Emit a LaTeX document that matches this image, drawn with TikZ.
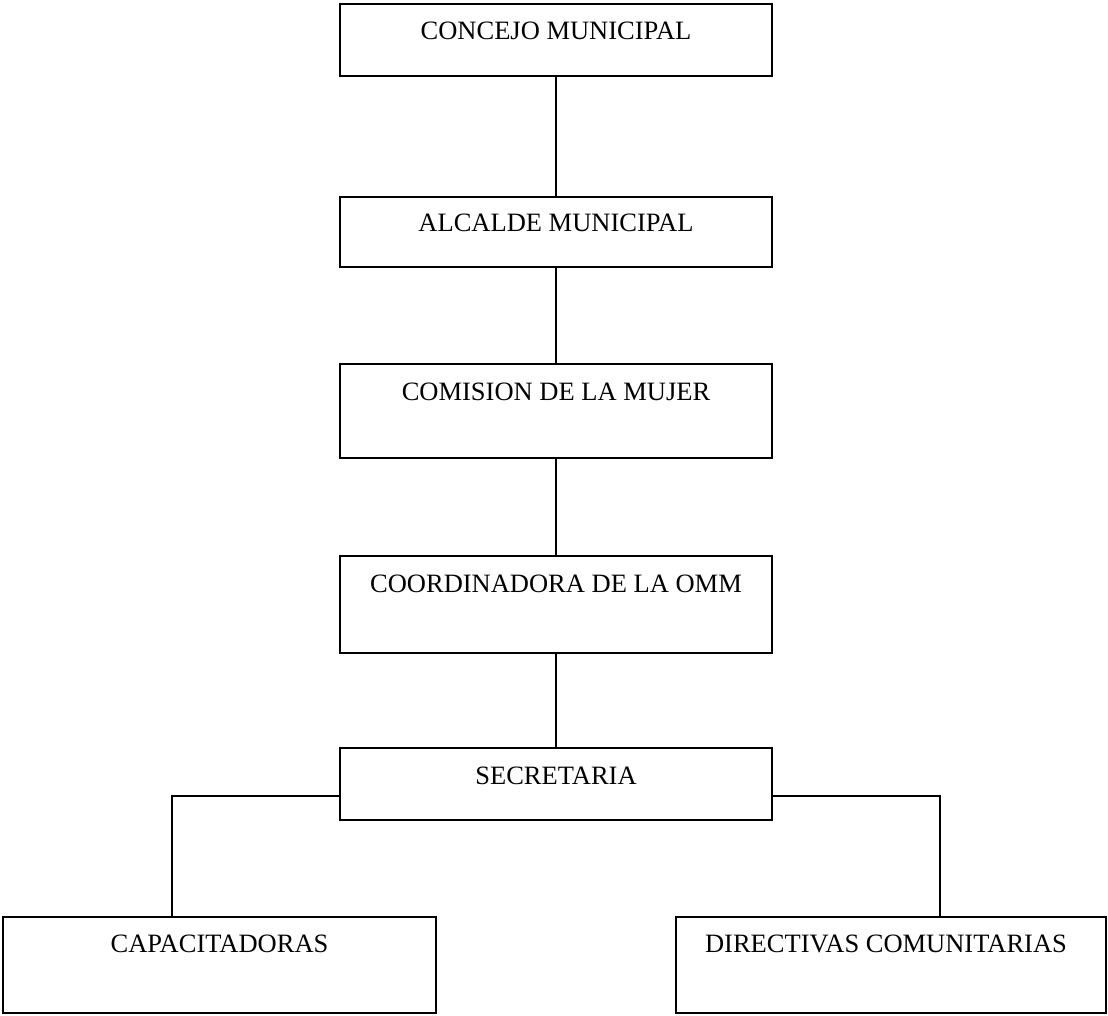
\documentclass[tikz,border=0pt]{standalone}
\usepackage{fontspec}
\setmainfont{Liberation Serif}
\usetikzlibrary{calc}
\begin{document}
\begin{tikzpicture}[x=1pt,y=-1pt,
  box/.style={draw=black,line width=1.8pt,rectangle,inner sep=0pt,outer sep=0pt},
  lbl/.style={inner sep=0pt,anchor=base,font=\fontsize{26.5}{30}\selectfont},
  conn/.style={draw=black,line width=1.8pt}]
\useasboundingbox (0,0) rectangle (1108,1016);
\node[box,minimum width=432,minimum height=72] (b1) at (556,40) {};
\node[box,minimum width=432,minimum height=70] (b2) at (556,232) {};
\node[box,minimum width=432,minimum height=94] (b3) at (556,411) {};
\node[box,minimum width=432,minimum height=97] (b4) at (556,604.5) {};
\node[box,minimum width=432,minimum height=72] (b5) at (556,784) {};
\node[box,minimum width=433,minimum height=96] (b6) at (219.5,965) {};
\node[box,minimum width=430,minimum height=96] (b7) at (891,965) {};
\node[lbl] (t1) at ($(b1.north)+(0,36)$) {CONCEJO MUNICIPAL};
\node[lbl] (t2) at ($(b2.north)+(0,35)$) {ALCALDE MUNICIPAL};
\node[lbl] (t3) at ($(b3.north)+(0,36)$) {COMISION DE LA MUJER};
\node[lbl] (t4) at ($(b4.north)+(0,36)$) {COORDINADORA DE LA OMM};
\node[lbl] (t5) at ($(b5.north)+(0,36)$) {SECRETARIA};
\node[lbl] (t6) at ($(b6.north)+(0,35)$) {CAPACITADORAS};
\node[lbl] (t7) at ($(b7.north)+(-5,35)$) {DIRECTIVAS COMUNITARIAS};
\coordinate (c1) at (172,796);
\coordinate (c2) at (940,796);
\draw[conn] (b1.south) -- (b2.north);
\draw[conn] (b2.south) -- (b3.north);
\draw[conn] (b3.south) -- (b4.north);
\draw[conn] (b4.south) -- (b5.north);
\draw[conn] (b5.west |- c1) -- (c1) -- (c1 |- b6.north);
\draw[conn] (b5.east |- c2) -- (c2) -- (c2 |- b7.north);
\end{tikzpicture}
\end{document}
